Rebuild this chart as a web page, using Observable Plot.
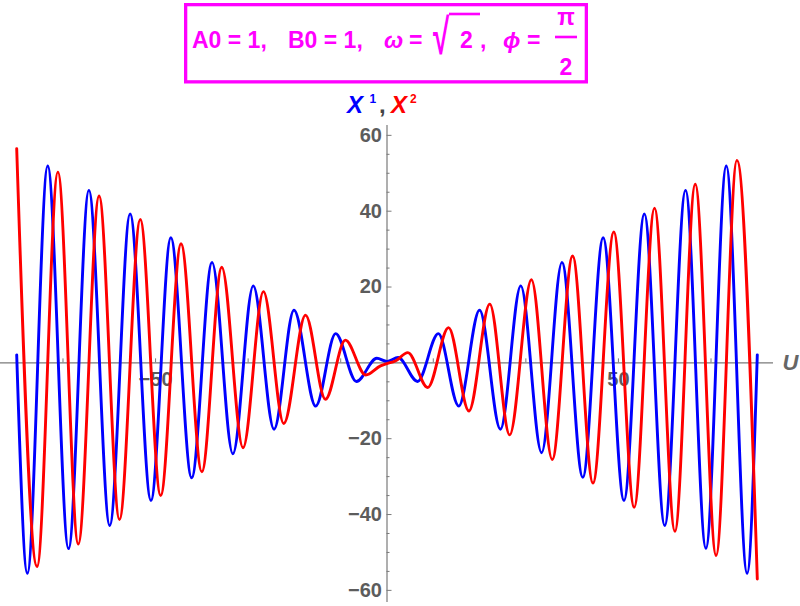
<!DOCTYPE html>
<html>
<head>
<meta charset="utf-8">
<script src="https://cdn.jsdelivr.net/npm/d3@7"></script>
<script src="https://cdn.jsdelivr.net/npm/@observablehq/plot@0.6"></script>
<style>
  html, body { margin: 0; padding: 0; background: #fff; }
  #page { position: relative; width: 800px; height: 606px; overflow: hidden; }
  svg { display: block; }
  #head text { font-family: "Liberation Sans", Arial, sans-serif; font-weight: bold; }
  #head .m { fill: #f0f; font-size: 23px; }
  #head .yl { font-size: 24px; }
  #head .sup { font-size: 12px; }
</style>
</head>
<body>
<div id="page">
  <svg id="head" width="800" height="125" viewBox="0 0 800 125">
    <rect x="185.65" y="4.65" width="400.7" height="77.2" fill="none" stroke="#f0f" stroke-width="3.3"></rect>
    <text class="m" x="192" y="47.7">A0 = 1,</text>
    <text class="m" x="288" y="47.7">B0 = 1,</text>
    <text class="m" x="384" y="47.7" font-style="italic">ω</text>
    <text class="m" x="409" y="47.7">=</text>
    <text class="m" id="rad" x="0" y="0" style="font-size:40px">√</text>
    <rect x="449" y="12.7" width="31" height="2.6" fill="#f0f"></rect>
    <text class="m" x="460" y="47.7">2</text>
    <text class="m" x="480" y="47.7">,</text>
    <text class="m" x="503" y="47.7" font-style="italic">ϕ</text>
    <text class="m" x="527" y="47.7">=</text>
    <text class="m" x="566" y="25" text-anchor="middle">π</text>
    <rect x="555" y="35.7" width="22" height="2.6" fill="#f0f"></rect>
    <text class="m" x="566" y="75" text-anchor="middle">2</text>

    <text class="yl" x="347" y="113" font-style="italic" fill="#0000ff">X</text>
    <text class="sup" x="369.5" y="103.3" fill="#0000ff">1</text>
    <text class="yl" x="379" y="113" fill="#444">,</text>
    <text class="yl" x="391" y="113" font-style="italic" fill="#ff0000">X</text>
    <text class="sup" x="410" y="103.3" fill="#ff0000">2</text>
  </svg>
  <div id="chart"></div>
</div>
<script>
// X^1 (blue): extrema
const blueU = [-80, -77.7, -73.3, -68.8, -64.4, -59.9, -55.5, -51.0, -46.7, -42.2, -37.8, -33.3, -28.9, -24.4, -20.1, -15.4, -11.1, -6.6, -2.2, 0, 2.4, 6.6, 11.1, 15.5, 20.0, 24.5, 28.9, 33.4, 37.8, 42.3, 46.7, 51.2, 55.6, 60.0, 64.5, 68.9, 73.3, 77.8, 80];
const blueV = [2.1, -55.5, 51.9, -49.0, 45.5, -42.9, 39.3, -36.3, 33.0, -30.3, 26.5, -24.0, 20.3, -17.5, 13.9, -11.4, 7.7, -4.9, 1.2, 0.4, 1.4, -4.9, 7.7, -11.4, 13.9, -17.5, 20.3, -23.7, 26.5, -30.2, 33.0, -36.3, 39.3, -42.9, 45.5, -48.9, 51.9, -55.5, 2.1];
// X^2 (red)
const redU = [-80, -75.6, -71.1, -66.7, -62.2, -57.8, -53.3, -48.9, -44.5, -40.0, -35.7, -31.1, -26.7, -22.3, -17.6, -13.3, -9.0, -4.6, -1.4, 0, 1.8, 4.5, 8.8, 13.3, 17.7, 22.2, 26.5, 31.2, 35.7, 40.1, 44.5, 49.0, 53.4, 57.8, 62.2, 66.6, 71.1, 75.6, 80];
const redV = [56.5, -53.7, 50.3, -47.8, 44.0, -41.3, 37.8, -35.0, 31.4, -28.7, 25.2, -22.4, 18.8, -16.0, 12.6, -9.6, 6.0, -3.2, -0.8, -0.2, 0.5, 2.7, -6.5, 9.3, -12.7, 15.5, -19.0, 21.9, -25.5, 28.2, -31.7, 34.5, -38.1, 40.8, -44.4, 47.1, -50.8, 53.4, -57.0];

const xTickLabels = [-50, 50];
const xTicks = [-70, -50, -30, -10, 10, 30, 50, 70];
const yTickLabels = [-60, -40, -20, 20, 40, 60];
const yMinorTicks = [-55, -50, -45, -35, -30, -25, -15, -10, -5, 5, 10, 15, 25, 30, 35, 45, 50, 55];
const xDomain = [-83.5, 83.5];
const yDomain = [-63.2, 62.6];

// fit the radical sign glyph into its box (left 433..450, top 14..55)
(function () {
  const rad = document.getElementById("rad");
  const ctx = document.createElement("canvas").getContext("2d");
  ctx.font = "bold 40px 'Liberation Sans', Arial, sans-serif";
  const m = ctx.measureText("\u221A");
  const L = m.actualBoundingBoxLeft || 0, R = m.actualBoundingBoxRight || 20;
  const A = m.actualBoundingBoxAscent || 30, D = m.actualBoundingBoxDescent || 0;
  const sx = 17 / Math.max(1, L + R), sy = 41 / Math.max(1, A + D);
  const tx = 433 + sx * L, ty = 14 + sy * A;
  rad.setAttribute("transform", `translate(${tx},${ty}) scale(${sx},${sy})`);
})();

const blue = blueU.map((u, i) => ({u, v: blueV[i]}));
const red = redU.map((u, i) => ({u, v: redV[i]}));

const axisColor = "#7a7a7a";
const labelColor = "#5c5c5c";
const fmt = d => (d < 0 ? "\u2212" + Math.abs(d) : String(d));
const font = "Liberation Sans, Arial, sans-serif";

const chart = Plot.plot({
  width: 800,
  height: 481,
  marginLeft: 0,
  marginRight: 27,
  marginTop: 0,
  marginBottom: 4,
  style: {background: "transparent", overflow: "visible", fontFamily: font},
  x: {domain: xDomain, axis: null},
  y: {domain: yDomain, axis: null},
  marks: [
    Plot.ruleY([0], {stroke: axisColor, strokeWidth: 1.2}),
    Plot.ruleX([0], {stroke: axisColor, strokeWidth: 1.2}),
    Plot.ruleX(xTicks, {x: d => d, y1: 0, y2: 0, insetTop: -4, stroke: axisColor, strokeWidth: 1}),
    Plot.ruleY(yTickLabels, {y: d => d, x1: 0, x2: 0, insetRight: -5, stroke: axisColor, strokeWidth: 1}),
    Plot.ruleY(yMinorTicks, {y: d => d, x1: 0, x2: 0, insetRight: -3, stroke: axisColor, strokeWidth: 1}),
    Plot.text(xTickLabels, {x: d => d, y: 0, dy: 17, text: fmt, fontSize: 20, fontWeight: "bold", fill: labelColor}),
    Plot.text(yTickLabels, {x: 0, y: d => d, dx: -5, text: fmt, textAnchor: "end", fontSize: 20, fontWeight: "bold", fill: labelColor}),
    Plot.text(["U"], {x: xDomain[1], y: 0, dx: 17, text: d => d, fontSize: 22, fontWeight: "bold", fontStyle: "italic", fill: "#666"}),
    Plot.line(blue, {x: "u", y: "v", curve: "monotone-x", stroke: "#0000ff", strokeWidth: 2.9}),
    Plot.line(red, {x: "u", y: "v", curve: "monotone-x", stroke: "#ff0000", strokeWidth: 2.9})
  ]
});
document.getElementById("chart").appendChild(chart);
</script>
</body>
</html>
